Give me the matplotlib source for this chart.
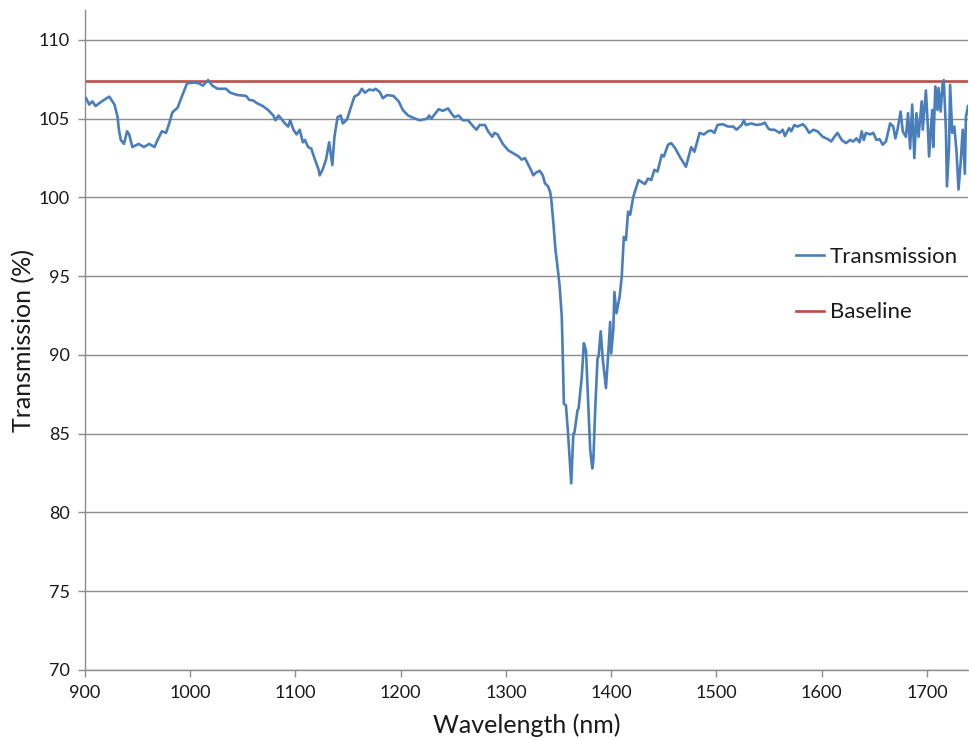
import matplotlib
matplotlib.use("Agg")
import matplotlib.pyplot as plt
import numpy as np

wavelength = [
    901, 904, 907, 910, 916, 923, 928, 931, 932, 934, 937, 940, 942, 945, 951, 956, 961, 966, 969, 973,
    977, 980, 983, 988, 992, 997, 1004, 1008, 1012, 1017, 1021, 1026, 1034, 1038, 1045, 1053, 1056, 1060,
    1063, 1069, 1074, 1079, 1081, 1084, 1087, 1090, 1093, 1095, 1098, 1101, 1104, 1107, 1109, 1112, 1115,
    1118, 1122, 1123, 1126, 1129, 1132, 1133, 1135, 1137, 1140, 1143, 1145, 1149, 1152, 1156, 1160, 1163,
    1166, 1170, 1174, 1176, 1180, 1183, 1187, 1193, 1198, 1202, 1207, 1212, 1218,
    1225, 1227, 1229, 1236, 1240, 1245, 1248, 1251, 1255, 1259, 1264, 1269, 1272, 1275, 1280, 1283, 1287,
    1289, 1292, 1297, 1302, 1307, 1312, 1315, 1318, 1323, 1326, 1328, 1332, 1335, 1337, 1340, 1342, 1343,
    1345, 1347, 1350, 1351, 1353, 1354, 1355, 1357, 1359, 1362, 1364, 1365, 1368, 1369, 1372, 1374, 1376,
    1378, 1380, 1382, 1383, 1385, 1387, 1388, 1390, 1392, 1395, 1397, 1399, 1400, 1402, 1403, 1405, 1408,
    1410, 1412, 1414, 1416, 1418, 1419, 1421, 1426, 1432, 1435, 1438, 1441, 1444, 1448, 1450, 1454, 1457,
    1461, 1465, 1471, 1474, 1476, 1479, 1484, 1488, 1492, 1495, 1498, 1501, 1506, 1511, 1516, 1519, 1524,
    1526, 1528, 1533, 1538, 1543, 1546, 1549, 1551, 1555, 1560, 1563, 1565, 1569, 1571, 1574, 1577, 1582,
    1585, 1588, 1592, 1596, 1601, 1606, 1609, 1612, 1615, 1619, 1623, 1627, 1630, 1633, 1636, 1638, 1640,
    1642, 1646, 1649, 1652, 1655, 1658, 1661, 1665, 1668, 1670, 1672, 1675, 1677, 1680, 1682, 1684, 1686,
    1688, 1690, 1692, 1695, 1696, 1699, 1701, 1702, 1705, 1706, 1708, 1710, 1711, 1713, 1715, 1716, 1718,
    1719, 1721, 1722, 1724, 1726, 1728, 1730, 1732, 1734, 1736, 1737, 1739,
]

transmission = [
    106.3, 105.9, 106.1, 105.8, 106.1, 106.4, 105.9, 105.1, 104.4, 103.65, 103.4, 104.2, 104.0, 103.2, 103.4,
    103.2, 103.4, 103.2, 103.65, 104.2, 104.1, 104.7, 105.4, 105.7, 106.4, 107.25, 107.3, 107.25, 107.1,
    107.45, 107.1, 106.9, 106.9, 106.65, 106.5, 106.45, 106.2, 106.15,
    106.0, 105.8, 105.55, 105.2, 104.9, 105.2, 104.95, 104.7, 104.5, 104.9, 104.3, 104.0, 104.3, 103.5,
    103.65, 103.2, 103.1, 102.5, 101.75, 101.4, 101.8, 102.4, 103.5, 103.0, 102.05, 103.85, 105.1, 105.2,
    104.7, 104.95, 105.6, 106.4, 106.55, 106.9, 106.65, 106.85, 106.8, 106.9, 106.7, 106.3, 106.5, 106.45,
    106.1, 105.55, 105.2, 105.05, 104.9,
    105.0, 105.2, 105.0, 105.6, 105.5, 105.65, 105.35, 105.1, 105.2, 104.9, 104.9, 104.5, 104.3, 104.6,
    104.6, 104.2, 103.85, 104.1, 104.0, 103.4, 103.0, 102.8, 102.6, 102.4, 102.5, 101.85, 101.4, 101.55,
    101.7, 101.4, 100.9, 100.7, 100.35, 99.9,
    98.4, 96.7, 95.0, 94.35, 92.45, 89.9, 86.9, 86.8, 85.0, 81.85, 85.0, 85.05, 86.5, 86.6, 88.6, 90.75,
    90.3, 87.15, 84.0, 82.8, 83.3, 86.9, 89.8, 89.9, 91.5, 89.7, 87.9, 89.9, 92.1, 90.1, 91.6, 94.0, 92.65,
    93.7, 95.0, 97.5, 97.3, 99.1, 98.9, 99.3, 100.05, 101.1, 100.85, 101.2, 101.1, 101.75, 101.65, 102.7,
    102.6, 103.35, 103.45, 103.1, 102.6, 101.95, 102.7, 103.2, 102.9, 104.1, 104.0, 104.2, 104.25, 104.1,
    104.6, 104.65, 104.5, 104.5, 104.3, 104.6, 104.9, 104.6, 104.7, 104.6, 104.65, 104.75, 104.4,
    104.3, 104.3, 104.1, 104.3, 103.9, 104.4, 104.2, 104.6, 104.5, 104.65, 104.45, 104.1, 104.3, 104.2,
    103.85, 103.7, 103.55, 103.85, 104.1, 103.65, 103.45, 103.65, 103.55, 103.75, 103.5, 104.2, 103.65,
    104.1, 104.0, 104.1, 103.65, 103.7, 103.35, 103.55, 104.7, 104.5, 103.75, 104.3, 105.45, 104.2, 103.85,
    105.35, 103.1, 105.9, 102.5, 105.35, 103.85, 106.1, 104.3, 106.8, 104.3, 102.6, 105.55, 103.2, 107.05,
    105.55, 106.95, 105.45, 107.35, 107.45, 104.3, 100.7, 103.2, 107.15, 104.1, 104.5, 103.0, 100.5, 102.2,
    104.3, 101.5, 105.1, 105.8,
]

baseline_value = 107.4

x_ticks = [900, 1000, 1100, 1200, 1300, 1400, 1500, 1600, 1700]
y_ticks = [70, 75, 80, 85, 90, 95, 100, 105, 110]

plt.rcParams['font.family'] = ['Lato', 'DejaVu Sans']

fig = plt.figure(figsize=(9.69, 7.40), dpi=100)
ax = fig.add_axes([85 / 969, 70 / 740, 883 / 969, 660 / 740])

blue = '#4A7EBB'
red = '#BE4B48'
grid_c = '#8C8C8C'

ax.plot(wavelength, transmission, color=blue, lw=1.9, label='Transmission', zorder=3)
ax.axhline(baseline_value, color=red, lw=1.9, label='Baseline', zorder=2)

ax.set_xlim(900, 1739)
ax.set_ylim(70, 111.9)
ax.set_xticks(x_ticks)
ax.set_yticks(y_ticks)

ax.yaxis.grid(True, color=grid_c, lw=1.0)
ax.set_axisbelow(True)
for s in ['top', 'right']:
    ax.spines[s].set_visible(False)
for s in ['left', 'bottom']:
    ax.spines[s].set_color(grid_c)
    ax.spines[s].set_linewidth(1.0)

ax.tick_params(axis='both', direction='out', length=5, width=1.0, color=grid_c,
               labelsize=13, labelcolor='#1a1a1a', pad=6)

ax.set_xlabel('Wavelength (nm)', fontsize=18, color='#1a1a1a', labelpad=9)
ax.set_ylabel('Transmission (%)', fontsize=18, color='#1a1a1a', labelpad=2)

leg = ax.legend(loc='center left', bbox_to_anchor=(0.783, 0.584), frameon=False,
                fontsize=16, labelspacing=1.6, handlelength=1.25, handletextpad=0.25)
for t in leg.get_texts():
    t.set_color('#1a1a1a')

fig.savefig('out.png', dpi=100)
